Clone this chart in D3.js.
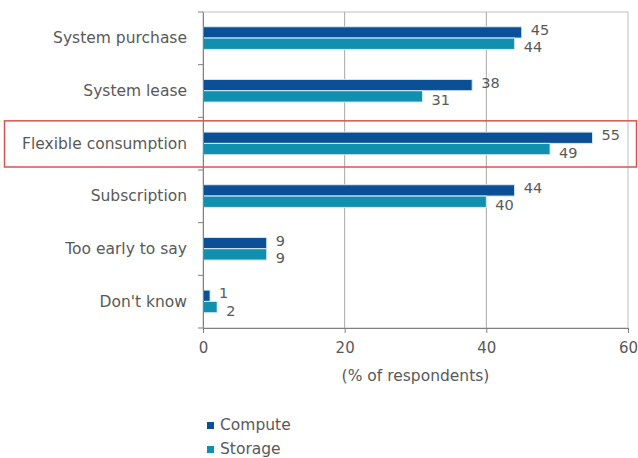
<!DOCTYPE html>
<html>
<head>
<meta charset="utf-8">
<script src="https://cdn.jsdelivr.net/npm/d3@7"></script>
<style>
  body { margin: 0; background: #fff; }
  text { font-family: "DejaVu Sans", sans-serif; fill: #595959; }
</style>
</head>
<body>
<div id="chart"></div>
<script>
const categories = ['System purchase', 'System lease', 'Flexible consumption', 'Subscription', 'Too early to say', "Don't know"];
const compute = [45, 38, 55, 44, 9, 1];
const storage = [44, 31, 49, 40, 9, 2];
const seriesNames = ['Compute', 'Storage'];
const xTicks = [0, 20, 40, 60];
const highlighted = 'Flexible consumption';

const W = 638, H = 458;
const margin = { top: 12, right: 10, bottom: 130, left: 203 };
const width = 628 - margin.left;
const height = 328 - margin.top;
const colors = ['#0b4f96', '#118fae'];

const svg = d3.select('#chart').append('svg')
    .attr('width', W)
    .attr('height', H);

const g = svg.append('g')
    .attr('transform', 'translate(' + margin.left + ',' + margin.top + ')');

const x = d3.scaleLinear().domain([0, 60]).range([0, width]);
const y = d3.scaleBand().domain(categories).range([0, height]);
const ySub = d3.scaleBand().domain(seriesNames).range([y.bandwidth() * 0.28, y.bandwidth() * 0.71]);

// frame and gridlines
g.append('rect')
    .attr('width', width).attr('height', height)
    .attr('fill', 'none').attr('stroke', '#bfbfbf');

g.selectAll('.grid').data(xTicks.slice(1, -1)).enter().append('line')
    .attr('x1', (d) => x(d)).attr('x2', (d) => x(d))
    .attr('y1', 0).attr('y2', height)
    .attr('stroke', '#a6a6a6');

const rows = categories.map((c, i) => ({ cat: c, values: [compute[i], storage[i]] }));

const row = g.selectAll('.row').data(rows).enter().append('g')
    .attr('transform', (d) => 'translate(0,' + y(d.cat) + ')');

row.selectAll('rect').data((d) => d.values.map((v, j) => ({ v: v, s: seriesNames[j], j: j })))
    .enter().append('rect')
    .attr('x', 0)
    .attr('y', (d) => ySub(d.s))
    .attr('width', (d) => x(d.v))
    .attr('height', ySub.bandwidth())
    .attr('fill', (d) => colors[d.j])
    .attr('stroke', '#d8ecf2')
    .attr('stroke-width', 1);

row.selectAll('.val').data((d) => d.values.map((v, j) => ({ v: v, s: seriesNames[j], j: j })))
    .enter().append('text')
    .attr('x', (d) => x(d.v) + 9)
    .attr('y', (d) => ySub(d.s) + ySub.bandwidth() / 2 + (d.j === 0 ? -2.5 : 3.5))
    .attr('dy', '0.35em')
    .style('font-size', '14.5px')
    .text((d) => d.v);

// axes
const yAxis = g.append('g')
    .call(d3.axisLeft(y).tickSize(0).tickPadding(16));
yAxis.select('.domain').attr('stroke', '#808080');
yAxis.selectAll('text').style('font-size', '15.5px').attr('fill', '#595959');

g.selectAll('.ytick').data(d3.range(categories.length + 1)).enter().append('line')
    .attr('x1', -5).attr('x2', 0)
    .attr('y1', (d) => d * y.step()).attr('y2', (d) => d * y.step())
    .attr('stroke', '#808080');

const xAxis = g.append('g')
    .attr('transform', 'translate(0,' + height + ')')
    .call(d3.axisBottom(x).tickValues(xTicks).tickSize(5).tickPadding(9));
xAxis.selectAll('.domain, line').attr('stroke', '#808080');
xAxis.selectAll('text').style('font-size', '15px').attr('fill', '#595959');

g.append('text')
    .attr('x', width / 2).attr('y', height + 53)
    .attr('text-anchor', 'middle')
    .style('font-size', '15.5px')
    .text('(% of respondents)');

// highlight box
svg.append('rect')
    .attr('x', 4.5).attr('y', margin.top + y(highlighted) + 3.5)
    .attr('width', 632).attr('height', y.bandwidth() - 6.5)
    .attr('fill', 'none').attr('stroke', '#d9534f').attr('stroke-width', 1.5);

// legend
const legend = svg.append('g').attr('transform', 'translate(207,425)');
const li = legend.selectAll('g').data(seriesNames).enter().append('g')
    .attr('transform', (d, i) => 'translate(0,' + i * 24 + ')');
li.append('rect').attr('x', 0).attr('y', -3).attr('width', 7).attr('height', 7)
    .attr('fill', (d, i) => colors[i]);
li.append('text').attr('x', 13).attr('y', 0).attr('dy', '0.35em')
    .style('font-size', '15.5px').text((d) => d);
</script>
</body>
</html>
